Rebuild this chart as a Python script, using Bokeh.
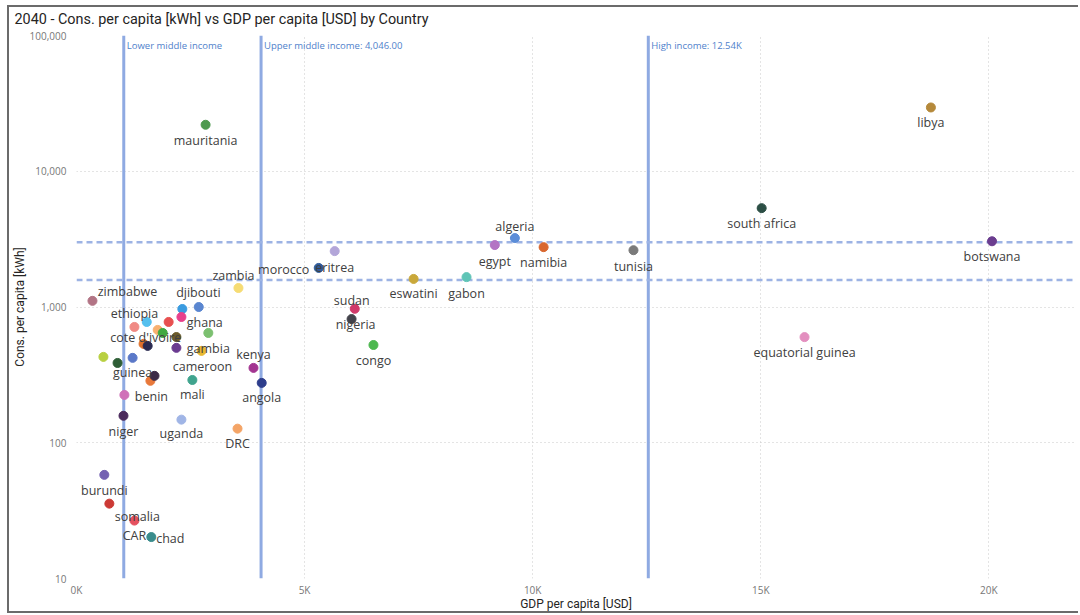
from bokeh.plotting import figure
from bokeh.models import (ColumnDataSource, Range1d, FixedTicker, NumeralTickFormatter,
                          CustomJSTickFormatter, Span, Label)
from bokeh.core.properties import value
from bokeh.embed import file_html
from bokeh.resources import INLINE

# ---------------- data ----------------
countries = ["mauritania", "libya", "south africa", "botswana", "equatorial guinea", "algeria",
             "egypt", "namibia", "tunisia", "eswatini", "gabon", "eritrea", "morocco", "sudan",
             "nigeria", "congo", "zambia", "kenya", "angola", "DRC", "uganda", "mali",
             "zimbabwe", "djibouti", "ghana", "ethiopia", "cote d'ivoire", "gambia", "cameroon",
             "guinea", "benin", "niger", "burundi", "somalia", "CAR", "chad",
             "tanzania", "senegal", "togo", "liberia", "rwanda", "madagascar", "malawi",
             "mozambique", "sierra leone", "south sudan", "guinea-bissau", "burkina faso"]

gdp_per_capita = [2830, 18730, 15020, 20070, 15960, 9610,
                  9170, 10240, 12210, 7390, 8550, 5660, 5310, 6100,
                  6030, 6510, 3550, 3880, 4060, 3530, 2300, 2540,
                  350, 2320, 2680, 1270, 1540, 2890, 2740,
                  1230, 1620, 1030, 610, 720, 1270, 1640,
                  2020, 2300, 1780, 1890, 2190, 1470, 1560,
                  2190, 590, 900, 1710, 1050]

cons_per_capita = [22000, 29500, 5350, 3050, 600, 3220,
                   2860, 2760, 2620, 1610, 1660, 2580, 1940, 970,
                   815, 525, 1380, 356, 276, 127, 148, 290,
                   1110, 967, 1000, 713, 776, 644, 475,
                   422, 286, 158, 58, 35.6, 26.7, 20.2,
                   776, 844, 678, 644, 601, 535, 517,
                   500, 429, 387, 311, 225]

show_label = [True] * 36 + [False] * 12

x_ticks = [0, 5000, 10000, 15000, 20000]
y_ticks = [10, 100, 1000, 10000, 100000]

income_thresholds = [1036, 4046, 12535]
income_labels = ["Lower middle income", "Upper middle income: 4,046.00", "High income: 12.54K"]
reference_levels = [3000, 1580]

title_text = "2040 - Cons. per capita [kWh] vs GDP per capita [USD] by Country"
x_title = "GDP per capita [USD]"
y_title = "Cons. per capita [kWh]"

# ---------------- style ----------------
colors = ["#4e9a4f", "#b5893a", "#2c4f45", "#6b3d8f", "#e38fbf", "#5b8dd8",
          "#b374c4", "#d9672f", "#7a7a7a", "#c9a83a", "#5fc4b6", "#b3a6d9", "#2f5b9c", "#d13a6a",
          "#43434b", "#4db84f", "#f6dc74", "#a33590", "#2d3d8c", "#f4a466", "#a0b5e6", "#40a48e",
          "#b27485", "#3a9be0", "#5a86d0", "#f08a84", "#55c0ee", "#7cc070", "#e8b830",
          "#5a78c8", "#e8783a", "#4a2a5c", "#7461b2", "#cc3a35", "#e5505f", "#3a8c8c",
          "#e85050", "#e8408c", "#f8b070", "#40a840", "#6b5a2a", "#e0702a", "#2a2a50",
          "#6a3a90", "#b8d040", "#2e5e36", "#3a2a48", "#d070b8"]

# label offsets in screen pixels (dx right, dy down)
label_dx = [0, 0, 0, 0, 0, 0,
            0, 0, 0, 0, 0, 0, -35, -3,
            4, 0, -5, 0, 0, 0, 0, 0,
            35, 16, 6, 0, -1, 0, 1,
            0, 1, 0, 0, 28, 0, 19] + [0] * 12
label_dy = [16, 15, 15, 15, 15, -12,
            16, 15, 16, 15, 16, 16, 2, -8,
            5, 16, -13, -13, 15, 15, 14, 15,
            -9, -16, 15, -13, 16, 16, 16,
            15, 16, 16, 16, 13, 15, 1] + [0] * 12

labels = [c if s else "" for c, s in zip(countries, show_label)]

source = ColumnDataSource(dict(gdp=gdp_per_capita, cons=cons_per_capita, color=colors,
                               label=labels, dx=label_dx, dy=label_dy))

p = figure(width=1078, height=613, output_backend="svg", toolbar_location=None,
           y_axis_type="log", x_range=Range1d(0, 21900), y_range=Range1d(10, 100000),
           min_border_left=76, min_border_right=3, min_border_top=35, min_border_bottom=34,
           title=title_text, tools="")
p.outline_line_color = None
p.background_fill_color = "white"
p.border_fill_color = None
edge = "linear-gradient(#6b6b6b,#6b6b6b)"
p.styles = {"background": (f"{edge} 7px 5px / 1071px 2px no-repeat, "
                           f"{edge} 7px 5px / 2px 608px no-repeat, "
                           f"{edge} 7px 611px / 1071px 2px no-repeat, white")}

p.title.align = "left"
p.title.offset = -62
p.title.standoff = 16
p.title.text_line_height = 1.0
p.title.text_font = "Roboto"
p.title.text_font_size = "14.4px"
p.title.text_font_style = "normal"
p.title.text_color = "#252423"

tick_font = "Open Sans"
for ax in (p.xaxis[0], p.yaxis[0]):
    ax.axis_line_color = None
    ax.major_tick_line_color = None
    ax.minor_tick_line_color = None
    ax.major_tick_out = 0
    ax.major_tick_in = 0
    ax.minor_tick_out = 0
    ax.minor_tick_in = 0
    ax.major_label_text_font = tick_font
    ax.major_label_text_font_size = "10px"
    ax.major_label_text_color = "#777777"
    ax.axis_label_text_font = "Roboto"
    ax.axis_label_text_font_size = "12px"
    ax.axis_label_text_font_style = "normal"
    ax.axis_label_text_color = "#252423"

p.xaxis.ticker = FixedTicker(ticks=x_ticks)
p.xaxis.formatter = CustomJSTickFormatter(code="return (tick/1000).toFixed(0) + 'K';")
p.xaxis.major_label_standoff = 4
p.xaxis.axis_label = x_title
p.xaxis.axis_label_standoff = -3

p.yaxis.ticker = FixedTicker(ticks=y_ticks, minor_ticks=[])
p.yaxis.formatter = NumeralTickFormatter(format="0,0")
p.yaxis.major_label_standoff = 10
p.yaxis.axis_label = y_title
p.yaxis.axis_label_standoff = 0

for g in (p.xgrid[0], p.ygrid[0]):
    g.grid_line_color = "#c8c8c8"
    g.grid_line_dash = "1 3"
    g.grid_line_width = 1
p.ygrid.minor_grid_line_color = None

line_blue = "#8faae2"
for t in income_thresholds:
    p.add_layout(Span(location=t, dimension="height", line_color=line_blue, line_width=3,
                      level="underlay"))
for lv in reference_levels:
    p.add_layout(Span(location=lv, dimension="width", line_color="#9db3e4", line_width=2.5,
                      line_dash="6 4", level="underlay"))

for t, txt in zip(income_thresholds, income_labels):
    p.add_layout(Label(x=t, y=84400, text=txt, x_offset=3,
                       text_font=tick_font, text_font_size="9.5px", text_color="#4f7fcb",
                       text_baseline="middle", text_align="left"))

p.scatter("gdp", "cons", source=source, size=9, marker="circle",
          fill_color="color", line_color="color")

p.text("gdp", "cons", text="label", source=source, x_offset="dx", y_offset="dy",
       text_font=value("Open Sans"), text_font_size="12.5px", text_color="#404040",
       text_align="center", text_baseline="middle")

open("out.html", "w").write(file_html(p, INLINE))
